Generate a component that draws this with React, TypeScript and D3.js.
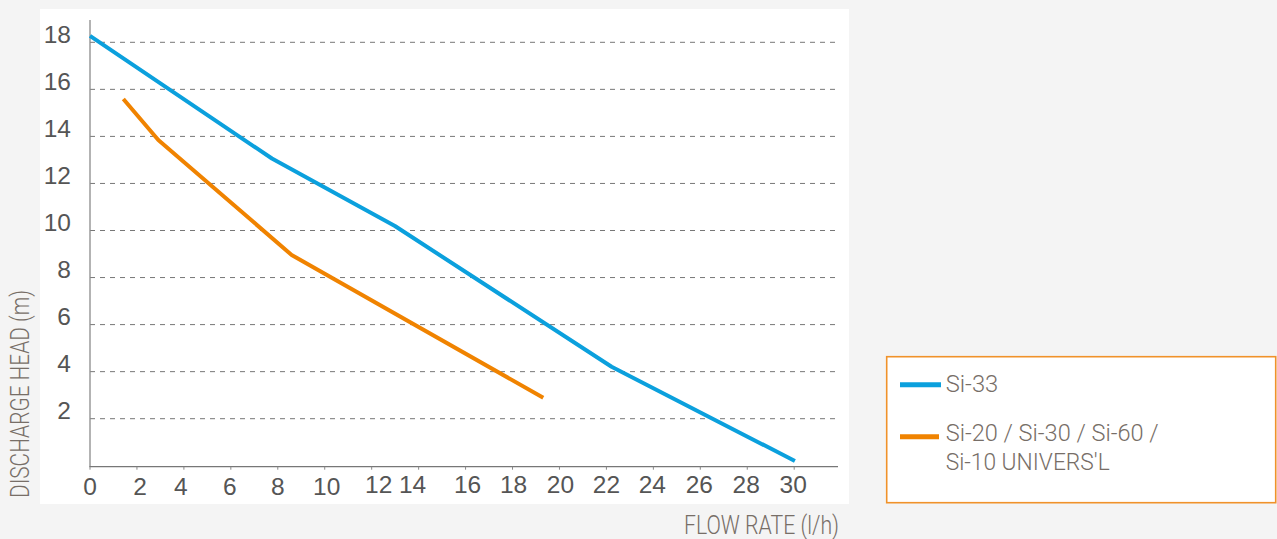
import React from "react";
import * as d3 from "d3";

// ---- data ----
const xTickValues = [0, 2, 4, 6, 8, 10, 12, 14, 16, 18, 20, 22, 24, 26, 28, 30];
const xTickLabels = ["0", "2", "4", "6", "8", "10", "12", "14", "16", "18", "20", "22", "24", "26", "28", "30"];
const yTickValues = [2, 4, 6, 8, 10, 12, 14, 16, 18];
const yTickLabels = ["2", "4", "6", "8", "10", "12", "14", "16", "18"];

const si33Flow = [0, 7.75, 12.99, 22.22, 30.03];
const si33Head = [18.27, 13.06, 10.19, 4.21, 0.2];
const si20Flow = [1.42, 2.91, 8.59, 19.31];
const si20Head = [15.59, 13.85, 8.96, 2.89];

const seriesNames = ["Si-33", "Si-20 / Si-30 / Si-60 /", "Si-10 UNIVERS'L"];
const xTitle = "FLOW RATE (l/h)";
const yTitle = "DISCHARGE HEAD (m)";

// label nudges (layout, not data)
const xLabelDx = [0, 3, -3, -1, 0, 2, 7, -6, 2, 1, 1, 0, -1, -1, -1, -1];
const xLabelDy = [0, 0, 0, 0, 0, 0, -1.7, -1.7, -1.7, -1.7, -1.7, -1.7, -1.7, -1.7, -1.7, -1.7];

const BLUE = "#0ba0dd";
const ORANGE = "#f08300";
const TICK_COLOR = "#555555";
const TITLE_COLOR = "#776e67";

export default function App() {
  const x = d3.scaleLinear().domain([0, 30]).range([90, 794.2]);
  const y = d3.scaleLinear().domain([0, 18]).range([465.75, 42.3]);

  const line = d3
    .line<[number, number]>()
    .x((d) => x(d[0]))
    .y((d) => y(d[1]));

  const si33 = si33Flow.map((f, i) => [f, si33Head[i]] as [number, number]);
  const si20 = si20Flow.map((f, i) => [f, si20Head[i]] as [number, number]);

  const axisY = 466.7;
  const condensed = "Roboto, 'Liberation Sans', sans-serif";
  const numFont = "'Liberation Sans', Arial, sans-serif";

  return (
    <svg
      width={1277}
      height={539}
      style={{ position: "absolute", left: 0, top: 0, display: "block" }}
    >
      <rect x={0} y={0} width={1277} height={539} fill="#f4f4f4" />
      <rect x={40} y={9} width={809} height={495} fill="#ffffff" />

      {/* grid lines */}
      {yTickValues.map((v) => (
        <line
          key={"g" + v}
          x1={90}
          x2={838}
          y1={y(v)}
          y2={y(v)}
          stroke="#777"
          strokeWidth={1}
          strokeDasharray="5,5"
        />
      ))}

      {/* axes */}
      <line x1={90} x2={90} y1={20} y2={axisY} stroke="#8a8a8a" strokeWidth={1.3} />
      <line x1={89.4} x2={838} y1={axisY} y2={axisY} stroke="#777" strokeWidth={1.3} />
      {xTickValues.map((v) => (
        <line key={"t" + v} x1={x(v)} x2={x(v)} y1={axisY} y2={axisY + 3} stroke="#888" strokeWidth={1} />
      ))}

      {/* y tick labels */}
      {yTickValues.map((v, i) => (
        <text
          key={"yl" + v}
          x={71}
          y={y(v) + 0.5}
          textAnchor="end"
          fontFamily={numFont}
          fontSize={24.5}
          fill={TICK_COLOR}
        >
          {yTickLabels[i]}
        </text>
      ))}

      {/* x tick labels */}
      {xTickValues.map((v, i) => (
        <text
          key={"xl" + v}
          x={x(v) + xLabelDx[i]}
          y={495 + xLabelDy[i]}
          textAnchor="middle"
          fontFamily={numFont}
          fontSize={24.5}
          fill={TICK_COLOR}
        >
          {xTickLabels[i]}
        </text>
      ))}

      {/* series */}
      <path d={line(si33) || ""} fill="none" stroke={BLUE} strokeWidth={4} strokeLinejoin="round" />
      <path d={line(si20) || ""} fill="none" stroke={ORANGE} strokeWidth={4} strokeLinejoin="round" />

      {/* axis titles */}
      <text
        x={684}
        y={534}
        fontFamily={condensed}
        fontWeight={300}
        fontSize={25}
        fill={TITLE_COLOR}
        textLength={155}
        lengthAdjust="spacingAndGlyphs"
      >
        {xTitle}
      </text>
      <text
        transform="translate(29.3,498) rotate(-90)"
        x={0}
        y={0}
        fontFamily={condensed}
        fontWeight={300}
        fontSize={25}
        fill={TITLE_COLOR}
        textLength={208}
        lengthAdjust="spacingAndGlyphs"
      >
        {yTitle}
      </text>

      {/* legend */}
      <rect x={886.7} y={356.7} width={389} height={146} fill="#ffffff" stroke="#f0922a" strokeWidth={1.6} />
      <line x1={900} x2={941} y1={384.7} y2={384.7} stroke={BLUE} strokeWidth={5} />
      <line x1={900} x2={939} y1={436.7} y2={436.7} stroke={ORANGE} strokeWidth={5} />
      <text x={945.7} y={392.3} fontFamily={condensed} fontWeight={300} fontSize={24.5} fill={TITLE_COLOR} textLength={52.6} lengthAdjust="spacingAndGlyphs">
        {seriesNames[0]}
      </text>
      <text x={945.7} y={440.7} fontFamily={condensed} fontWeight={300} fontSize={24.5} fill={TITLE_COLOR} textLength={213} lengthAdjust="spacingAndGlyphs">
        {seriesNames[1]}
      </text>
      <text x={945.7} y={470} fontFamily={condensed} fontWeight={300} fontSize={24.5} fill={TITLE_COLOR} textLength={164} lengthAdjust="spacingAndGlyphs">
        {seriesNames[2]}
      </text>
    </svg>
  );
}
